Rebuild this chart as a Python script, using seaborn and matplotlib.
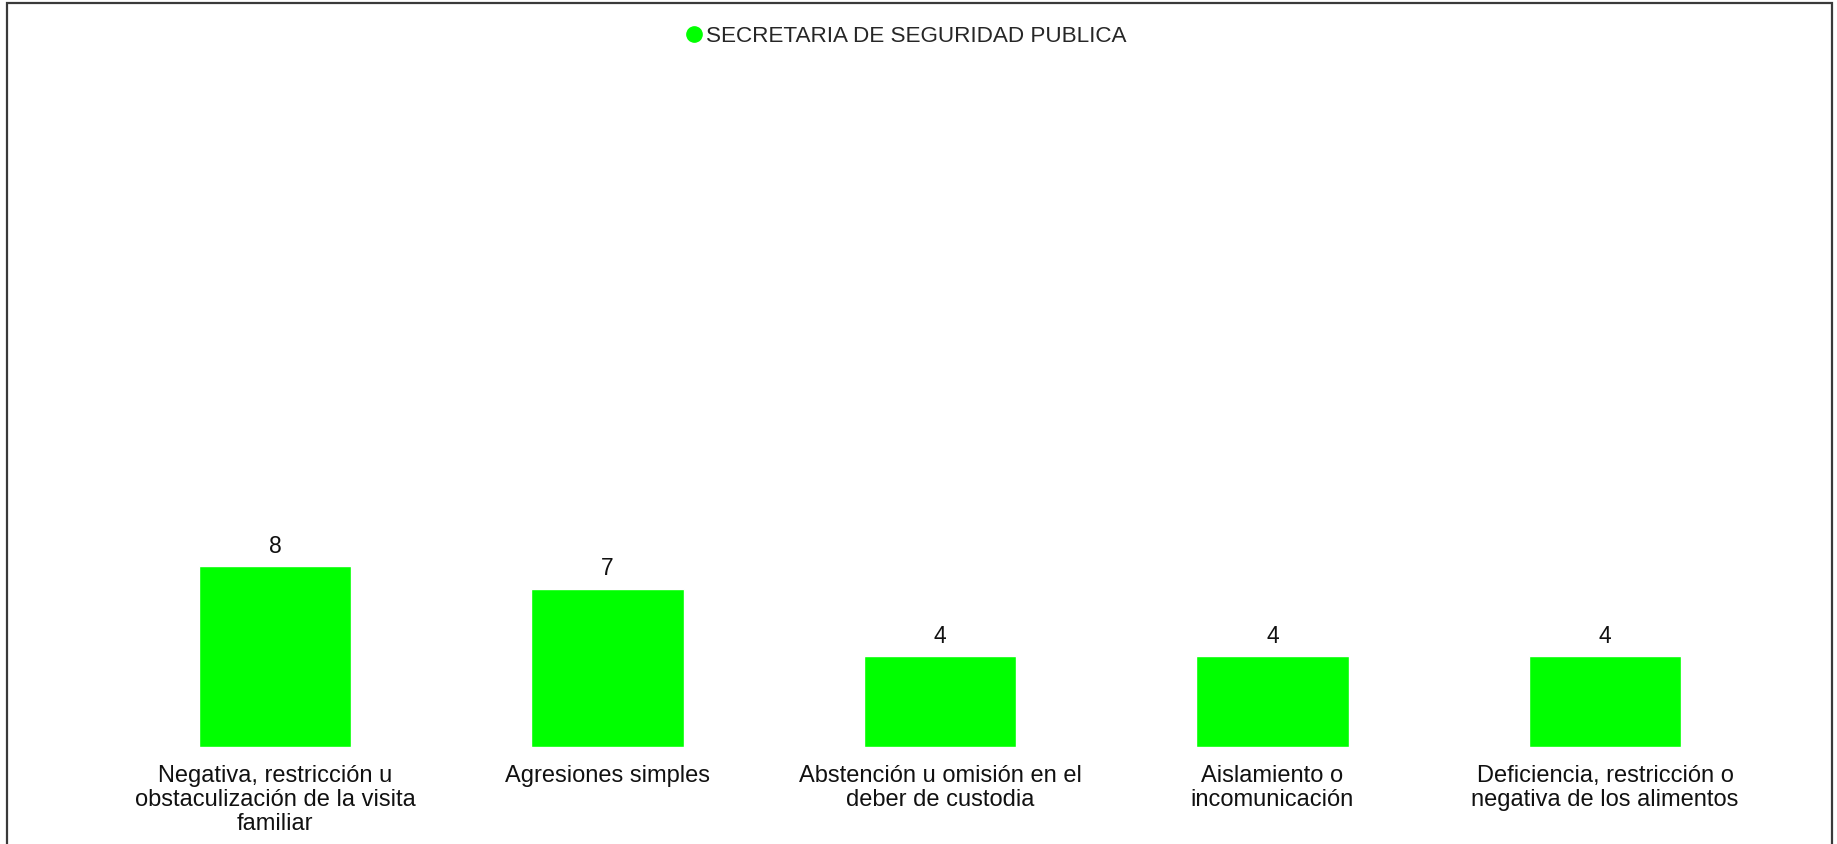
import matplotlib
matplotlib.use("Agg")
import matplotlib.pyplot as plt
from matplotlib.lines import Line2D
from matplotlib.patches import Rectangle
import seaborn as sns
import pandas as pd

# Data
series_name = "SECRETARIA DE SEGURIDAD PUBLICA"
categories = [
    "Negativa, restricción u obstaculización de la visita familiar",
    "Agresiones simples",
    "Abstención u omisión en el deber de custodia",
    "Aislamiento o incomunicación",
    "Deficiencia, restricción o negativa de los alimentos",
]
tick_labels = [
    "Negativa, restricción u\nobstaculización de la visita\nfamiliar",
    "Agresiones simples",
    "Abstención u omisión en el\ndeber de custodia",
    "Aislamiento o\nincomunicación",
    "Deficiencia, restricción o\nnegativa de los alimentos",
]
values = [8, 7, 4, 4, 4]

GREEN = "#00ff00"

sns.set_theme(style="white")
plt.rcParams["font.family"] = ["Liberation Sans", "DejaVu Sans"]

W, H = 1837, 844
fig = plt.figure(figsize=(W / 100, H / 100), dpi=100)
fig.patch.set_facecolor("white")

left_px, right_px = 108.75, 1771.25
bottom_px, top_px = 746.7, 69.6
ax = fig.add_axes([left_px / W, 1 - bottom_px / H,
                   (right_px - left_px) / W, (bottom_px - top_px) / H])

df = pd.DataFrame({"categoria": categories, "valor": values})
sns.barplot(data=df, x="categoria", y="valor", color=GREEN, saturation=1,
            width=0.46, ax=ax)

ax.set_ylim(0, 30)
ax.set_xlim(-0.5, len(categories) - 0.5)
ax.set_xlabel("")
ax.set_ylabel("")
ax.set_yticks([])
ax.set_xticks(range(len(categories)))
ax.set_xticklabels(tick_labels, fontsize=17, linespacing=1.13, color="#111111")
ax.tick_params(axis="x", length=0, pad=13)
for s in ax.spines.values():
    s.set_visible(False)

ax.bar_label(ax.containers[0], labels=[str(v) for v in values],
             padding=6, fontsize=16.5, color="#111111")

handle = Line2D([], [], marker="o", linestyle="none", markersize=11,
                markerfacecolor=GREEN, markeredgecolor=GREEN)
fig.legend([handle], [series_name], loc="center", ncol=1,
           bbox_to_anchor=(0.4924, 1 - 36 / H), frameon=False,
           fontsize=16.2, handletextpad=0.0, handlelength=1.0,
           borderaxespad=0)

# Outer frame (open at the bottom)
frame = Rectangle((6.5 / W, -0.05), (1832 - 6.5) / W, 1.05 - 3.5 / H,
                  transform=fig.transFigure, fill=False,
                  edgecolor="#3a3a3a", linewidth=1.6, zorder=10)
fig.add_artist(frame)

fig.savefig("out.png", dpi=100, facecolor="white")
